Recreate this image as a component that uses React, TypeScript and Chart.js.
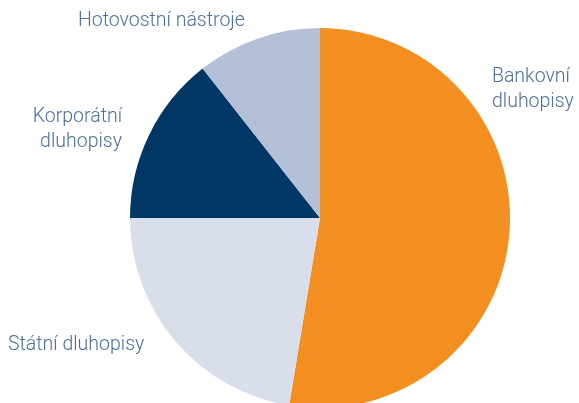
import React, { useEffect, useRef } from "react";
import { Chart, registerables } from "chart.js";

Chart.register(...registerables);

const categories = ["Bankovní dluhopisy", "Státní dluhopisy", "Korporátní dluhopisy", "Hotovostní nástroje"];
const shares = [52.6, 22.4, 14.4, 10.6];
const sliceColors = ["#F38E20", "#D8DFEB", "#003764", "#B4C0D7"];
// label lines per category
const labelLines = [["Bankovní", "dluhopisy"], ["Státní dluhopisy"], ["Korporátní", "dluhopisy"], ["Hotovostní nástroje"]];

// label anchor offsets relative to pie centre, in units of radius
const labelAnchors = [
  { dx: 0.905, dy: -0.716, align: "left" },
  { dx: -1.642, dy: 0.695, align: "left" },
  { dx: -1.042, dy: -0.505, align: "right" },
  { dx: -1.274, dy: -1.01, align: "left" },
];

const labelPlugin = {
  id: "outerLabels",
  afterDraw(chart: any) {
    const ctx = chart.ctx;
    const meta = chart.getDatasetMeta(0);
    ctx.save();
    ctx.font = "300 19.5px Roboto, 'Liberation Sans', sans-serif";
    ctx.fillStyle = "#4C6E9B";
    ctx.textBaseline = "alphabetic";
    meta.data.forEach((arc: any, i: number) => {
      const r = arc.outerRadius;
      const a = labelAnchors[i];
      const x = arc.x + a.dx * r;
      const y = arc.y + a.dy * r;
      ctx.textAlign = a.align;
      labelLines[i].forEach((line, j) => {
        ctx.fillText(line, x, y + j * 25);
      });
    });
    ctx.restore();
  },
};

export default function App() {
  const ref = useRef<HTMLCanvasElement>(null);
  useEffect(() => {
    if (!ref.current) return;
    const chart = new Chart(ref.current, {
      type: "pie",
      data: {
        labels: categories,
        datasets: [
          {
            data: shares,
            backgroundColor: sliceColors,
            borderWidth: 0,
          },
        ],
      },
      options: {
        responsive: false,
        animation: false,
        layout: { padding: { left: 130, right: 69, top: 28, bottom: 12 } },
        plugins: { legend: { display: false }, tooltip: { enabled: false } },
      },
      plugins: [labelPlugin],
    });
    return () => chart.destroy();
  }, []);
  return (
    <div style={{ position: "fixed", left: 0, top: 0, width: 579, height: 403, overflow: "hidden", background: "#fff" }}>
      <canvas ref={ref} width={579} height={420} style={{ display: "block" }} />
    </div>
  );
}
